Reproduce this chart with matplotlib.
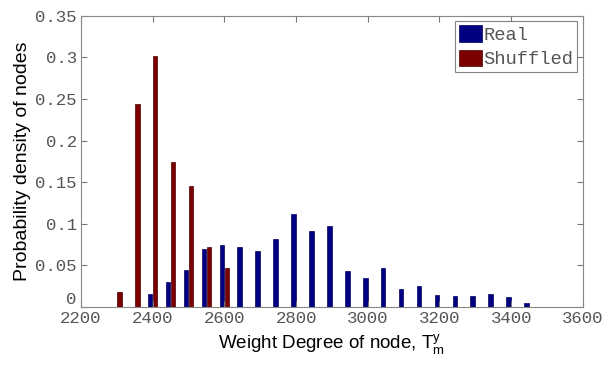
import matplotlib
matplotlib.use("Agg")
import matplotlib.pyplot as plt
import numpy as np

centers = np.arange(2300, 3451, 50)
real = [0.0, 0.0, 0.0161, 0.0297, 0.045, 0.0695, 0.0743, 0.0727, 0.0679, 0.0815,
        0.112, 0.0915, 0.0972, 0.0438, 0.0354, 0.047, 0.0217, 0.0253, 0.0149,
        0.0132, 0.0132, 0.0161, 0.0125, 0.0048]
shuffled = [0.0185, 0.244, 0.302, 0.174, 0.145, 0.0727, 0.047] + [0.0] * 17
xticks = [2200, 2400, 2600, 2800, 3000, 3200, 3400, 3600]
yticks = [0, 0.05, 0.1, 0.15, 0.2, 0.25, 0.3, 0.35]
ytick_labels = ["0", "0.05", "0.1", "0.15", "0.2", "0.25", "0.3", "0.35"]

fig = plt.figure(figsize=(6.04, 3.69), dpi=100)
ax = fig.add_axes([0.134, 0.168, 0.831, 0.789])

w = 13
off = 7
ax.bar(centers - off, real, width=w, color="#000080", edgecolor="#000060",
       linewidth=0.5, label="Real")
ax.bar(centers + off, shuffled, width=w, color="#7a0000", edgecolor="#500000",
       linewidth=0.5, label="Shuffled")

ax.set_xlim(2200, 3600)
ax.set_ylim(0, 0.35)
ax.set_xticks(xticks)
ax.set_yticks(yticks)
ax.set_yticklabels(ytick_labels)

for lab in ax.get_xticklabels() + ax.get_yticklabels():
    lab.set_fontfamily("Liberation Mono")
    lab.set_fontsize(12.5)
    lab.set_color("#555555")
ax.get_yticklabels()[0].set_verticalalignment("bottom")

ax.tick_params(direction="in", length=4, color="#777777", top=True, right=True,
               pad=3)
for s in ax.spines.values():
    s.set_color("#888888")
    s.set_linewidth(0.8)

ax.set_xlabel(r"Weight Degree of node, T$^{\mathregular{y}}_{\mathregular{m}}$",
              fontsize=13.5, family="Liberation Sans", labelpad=5)
ax.set_ylabel("Probability density of nodes", fontsize=14,
              family="Liberation Sans", labelpad=3)

leg = ax.legend(loc="upper right", prop=dict(family="Liberation Mono", size=13.5),
                frameon=True, fancybox=False, borderaxespad=0.3,
                handlelength=1.2, handleheight=1.0, handletextpad=0.1,
                borderpad=0.2, labelspacing=0.3)
leg.get_frame().set_edgecolor("#666666")
leg.get_frame().set_linewidth(0.8)
for t in leg.get_texts():
    t.set_color("#555555")

fig.savefig("out.png", dpi=100)
